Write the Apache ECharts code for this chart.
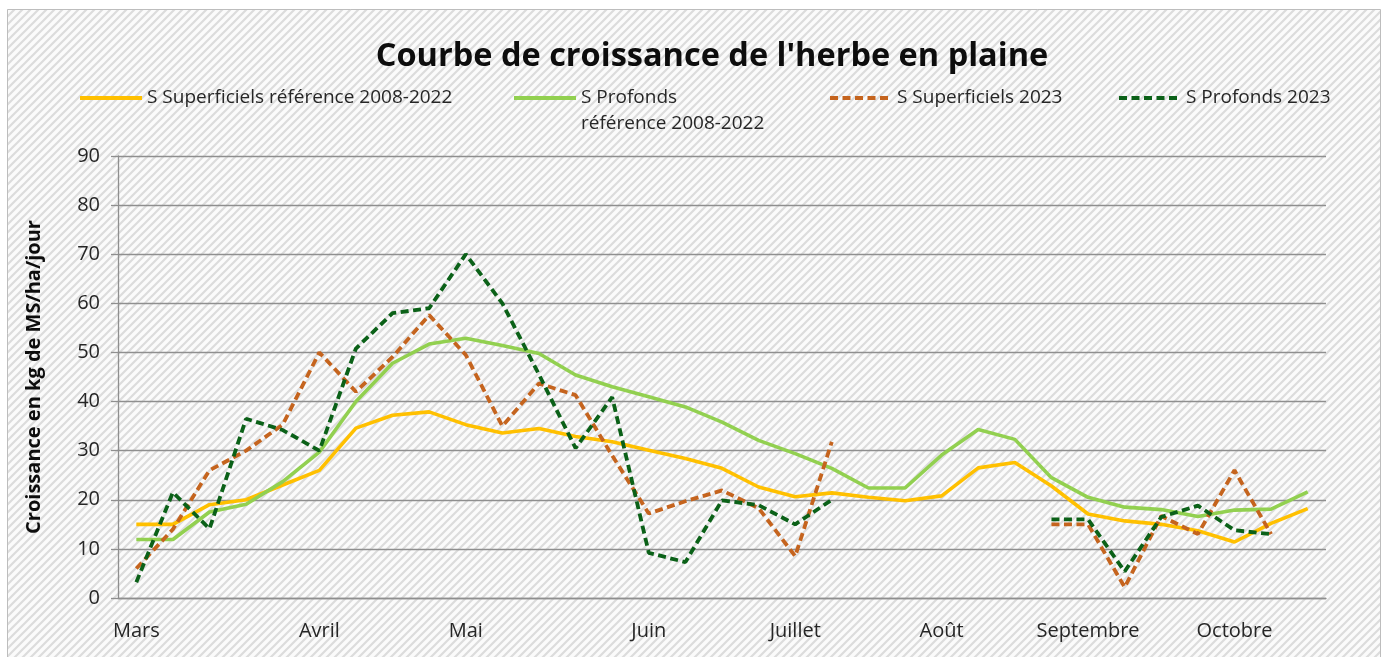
<!DOCTYPE html>
<html>
<head>
<meta charset="utf-8">
<script src="https://cdn.jsdelivr.net/npm/echarts@6/dist/echarts.min.js"></script>
<style>
html,body{margin:0;padding:0;background:#fff}
#main{width:1389px;height:657px}
</style>
</head>
<body>
<div id="main"></div>
<script>
// valeurs, en kg MS/ha/jour, une valeur par semaine (mars -> fin octobre)
var semaines = ['Mars','','','','','Avril','','','','Mai','','','','','Juin','','','',
  'Juillet','','','','Août','','','','Septembre','','','','Octobre','',''];

var superfRef = [15,15,19,20,23,26,34.6,37.2,37.9,35.3,33.6,34.5,32.9,31.8,30.1,28.4,26.4,
  22.6,20.6,21.4,20.5,19.8,20.8,26.5,27.6,22.8,17.1,15.7,15,13.7,11.4,15.2,18.2];
var profRef = [11.9,11.9,17.5,19.1,23.7,29.7,40,47.8,51.7,52.9,51.4,49.8,45.4,43,41,38.9,35.8,
  32.1,29.4,26.4,22.4,22.4,29.1,34.3,32.3,24.5,20.5,18.5,18,16.6,17.9,18.1,21.6];
var superf2023 = [6,14,26,30,35.3,50,42,49.1,57.6,49.5,35,43.7,41.3,29,17.2,19.7,21.9,
  18.3,8.5,31.8,null,null,null,null,null,15,15,2.2,16.7,13,26,13,null];
var prof2023 = [3.2,21.5,14.1,36.5,34.2,30,50.8,58,59,70,60,45.5,30.5,40.9,9.2,7.3,19.9,
  18.9,15,20,null,null,null,null,null,16,16,5.4,16.5,18.8,13.8,13,null];

var noms = ['S Superficiels référence 2008-2022', 'S Profonds référence 2008-2022',
  'S Superficiels 2023', 'S Profonds 2023'];

var FONT = "'Open Sans', sans-serif";
var GRIS = '#8f8f8f';

// motif hachuré du fond (style Excel)
var tuile = document.createElement('canvas');
tuile.width = 8; tuile.height = 8;
var c = tuile.getContext('2d');
c.fillStyle = '#fbfbfb';
c.fillRect(0, 0, 8, 8);
c.strokeStyle = '#dcdcdc';
c.lineWidth = 2.2;
c.beginPath();
c.moveTo(-2, 10); c.lineTo(10, -2);
c.moveTo(-2, 2); c.lineTo(2, -2);
c.moveTo(6, 10); c.lineTo(10, 6);
c.stroke();

var myChart = echarts.init(document.getElementById('main'));

function legende(nom, x, y, deuxLignes) {
  var l = {
    data: [nom], left: x, top: y, padding: 0,
    itemWidth: 62, itemHeight: 14,
    itemStyle: {opacity: 0},
    lineStyle: {width: 4},
    textStyle: {fontFamily: FONT, fontSize: 19, color: '#262626', lineHeight: 26}
  };
  if (deuxLignes) {
    // ligne vide au-dessus pour que "S Profonds" reste aligné sur le trait
    l.formatter = function (n) { return '\n' + n.replace(' référence', '\nréférence'); };
  }
  return l;
}

function serie(nom, data, couleur, pointille) {
  return {
    name: nom, type: 'line', data: data, symbol: 'none', showSymbol: false,
    lineStyle: {
      color: couleur, width: pointille ? 3.8 : 3.6,
      type: pointille ? [8, 4.5] : 'solid'
    },
    itemStyle: {color: couleur}
  };
}

var option = {
  animation: false,
  backgroundColor: '#ffffff',
  graphic: [{
    type: 'rect', z: -10, silent: true,
    shape: {x: 7.5, y: 9.5, width: 1373, height: 660},
    style: {fill: {image: tuile, repeat: 'repeat'}, stroke: '#bdbdbd', lineWidth: 1}
  }],
  title: {
    text: "Courbe de croissance de l'herbe en plaine",
    left: 707, top: 35, textAlign: 'center',
    textStyle: {fontFamily: FONT, fontSize: 32.5, fontWeight: 'bold', color: '#0d0d0d'}
  },
  legend: [
    legende(noms[0], 78, 85),
    legende(noms[1], 512, 59, true),
    legende(noms[2], 828, 85),
    legende(noms[3], 1117, 85)
  ],
  grid: {left: 118, right: 63, top: 156, bottom: 59},
  xAxis: {
    type: 'category', data: semaines, boundaryGap: true,
    axisLine: {lineStyle: {color: GRIS, width: 1.3}},
    axisTick: {interval: 0, length: 6, lineStyle: {color: GRIS, width: 1.3}},
    axisLabel: {interval: 0, margin: 23, fontFamily: FONT, fontSize: 20, color: '#262626'}
  },
  yAxis: {
    type: 'value', min: 0, max: 90, interval: 10,
    name: 'Croissance en kg de MS/ha/jour', nameLocation: 'middle', nameGap: 74, nameRotate: 90,
    nameTextStyle: {fontFamily: FONT, fontSize: 20, fontWeight: 'bold', color: '#0d0d0d'},
    axisLine: {show: true, lineStyle: {color: GRIS, width: 1.3}},
    axisTick: {show: true, length: 7, lineStyle: {color: GRIS, width: 1.3}},
    splitLine: {lineStyle: {color: GRIS, width: 1.3}},
    axisLabel: {margin: 18, fontFamily: FONT, fontSize: 20, color: '#262626'}
  },
  series: [
    serie(noms[0], superfRef, '#FFC000', false),
    serie(noms[1], profRef, '#92D050', false),
    serie(noms[2], superf2023, '#C5641E', true),
    serie(noms[3], prof2023, '#0B6118', true)
  ]
};

myChart.setOption(option);
</script>
</body>
</html>
